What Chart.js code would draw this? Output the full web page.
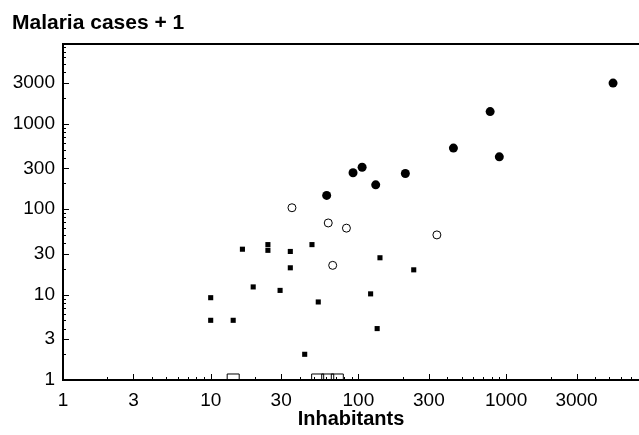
<!DOCTYPE html>
<html>
<head>
<meta charset="utf-8">
<script src="https://cdn.jsdelivr.net/npm/chart.js@4/dist/chart.umd.min.js"></script>
<style>
  html, body { margin: 0; padding: 0; background: #fff; }
  #c { display: block; }
</style>
</head>
<body>
<canvas id="c" width="639" height="435"></canvas>
<script>
// ---- Data ----
const titleText = "Malaria cases + 1";
const xTitle = "Inhabitants";
const tickValues = [1, 3, 10, 30, 100, 300, 1000, 3000];

// filled circles
const filledX = [61, 92, 106, 131, 208, 440, 780, 900, 5300];
const filledY = [145, 267, 310, 193, 262, 520, 1390, 410, 3000];
// open circles
const openX = [35.5, 62.5, 83, 67, 340];
const openY = [104, 69, 60, 22, 50];
// small filled squares
const squareX = [10, 10, 14.2, 16.4, 19.4, 24.4, 24.4, 29.5, 34.6, 34.6, 43.3, 48.5, 53.5, 121, 134, 140, 237];
const squareY = [9.2, 5, 5, 34, 12.3, 38.5, 33, 11.2, 32, 20.6, 2, 38.5, 8.2, 10.2, 4, 27, 19.5];
// open squares (zero cases, value 1)
const zeroX = [14.2, 53, 62, 72];
const zeroY = [1, 1, 1, 1];

const xMin = 1, xMax = 7943;
const yMin = 1, yMax = 8600;

function pts(xs, ys) { return xs.map((x, i) => ({ x: x, y: ys[i] })); }

const FONT = "'Liberation Sans', Arial, Helvetica, sans-serif";

const tickPlugin = {
  id: 'inwardTicks',
  afterDraw(chart) {
    const ctx = chart.ctx;
    const xs = chart.scales.x, ys = chart.scales.y;
    const area = chart.chartArea;
    ctx.save();
    ctx.strokeStyle = '#000';
    ctx.lineWidth = 1;
    const majors = new Set(tickValues);
    for (let d = 0; d <= 4; d++) {
      for (let m = 1; m <= 9; m++) {
        const v = m * Math.pow(10, d);
        const isMajor = majors.has(v);
        const len = isMajor ? 6 : 3;
        if (v > xMin && v <= xMax) {
          const px = Math.round(xs.getPixelForValue(v)) + 0.5;
          ctx.beginPath();
          ctx.moveTo(px, area.bottom);
          ctx.lineTo(px, area.bottom - len);
          ctx.stroke();
        }
        if (v > yMin && v <= yMax) {
          const py = Math.round(ys.getPixelForValue(v)) + 0.5;
          ctx.beginPath();
          ctx.moveTo(area.left, py);
          ctx.lineTo(area.left + len, py);
          ctx.stroke();
        }
      }
    }
    // top frame line
    ctx.lineWidth = 2;
    ctx.beginPath();
    ctx.moveTo(area.left, area.top);
    ctx.lineTo(area.right, area.top);
    ctx.stroke();
    ctx.restore();
  }
};

new Chart(document.getElementById('c'), {
  type: 'scatter',
  data: {
    datasets: [
      {
        data: pts(zeroX, zeroY),
        pointStyle: 'rect', pointRadius: 8.5,
        backgroundColor: 'rgba(0,0,0,0)', borderColor: '#000', borderWidth: 1,
        clip: 0
      },
      {
        data: pts(squareX, squareY),
        pointStyle: 'rect', pointRadius: 3.6,
        backgroundColor: '#000', borderColor: '#000', borderWidth: 0
      },
      {
        data: pts(openX, openY),
        pointStyle: 'circle', pointRadius: 4,
        backgroundColor: '#fff', borderColor: '#000', borderWidth: 1
      },
      {
        data: pts(filledX, filledY),
        pointStyle: 'circle', pointRadius: 4.5,
        backgroundColor: '#000', borderColor: '#000', borderWidth: 0
      }
    ]
  },
  options: {
    responsive: false,
    animation: false,
    devicePixelRatio: 1,
    layout: { autoPadding: false, padding: { left: 12, right: 0, top: 0, bottom: 0 } },
    plugins: {
      legend: { display: false },
      tooltip: { enabled: false },
      title: {
        display: true,
        text: titleText,
        align: 'start',
        color: '#000',
        font: { family: FONT, size: 21, weight: 'bold', lineHeight: 1.2 },
        padding: { top: 11, bottom: 7.8 }
      }
    },
    scales: {
      x: {
        type: 'logarithmic',
        min: xMin, max: xMax,
        afterBuildTicks(scale) { scale.ticks = tickValues.map(v => ({ value: v, major: false })); },
        afterFit(scale) { scale.height = 55; scale.paddingLeft = 0; scale.paddingRight = 0; },
        ticks: {
          color: '#000',
          font: { family: FONT, size: 19 },
          padding: 9,
          maxRotation: 0, autoSkip: false,
          callback: (v) => String(v)
        },
        grid: { display: false, drawTicks: false },
        border: { display: true, color: '#000', width: 2 },
        title: {
          display: true, text: xTitle, color: '#000',
          font: { family: FONT, size: 20, weight: 'bold', lineHeight: 1.2 },
          padding: { top: 0, bottom: 3.5 }
        }
      },
      y: {
        type: 'logarithmic',
        min: yMin, max: yMax,
        afterBuildTicks(scale) { scale.ticks = tickValues.map(v => ({ value: v, major: false })); },
        afterFit(scale) { scale.width = 51; scale.paddingTop = 0; scale.paddingBottom = 0; },
        ticks: {
          color: '#000',
          font: { family: FONT, size: 19 },
          padding: 8,
          autoSkip: false,
          callback: (v) => String(v)
        },
        grid: { display: false, drawTicks: false },
        border: { display: true, color: '#000', width: 2 }
      }
    }
  },
  plugins: [tickPlugin]
});
</script>
</body>
</html>
